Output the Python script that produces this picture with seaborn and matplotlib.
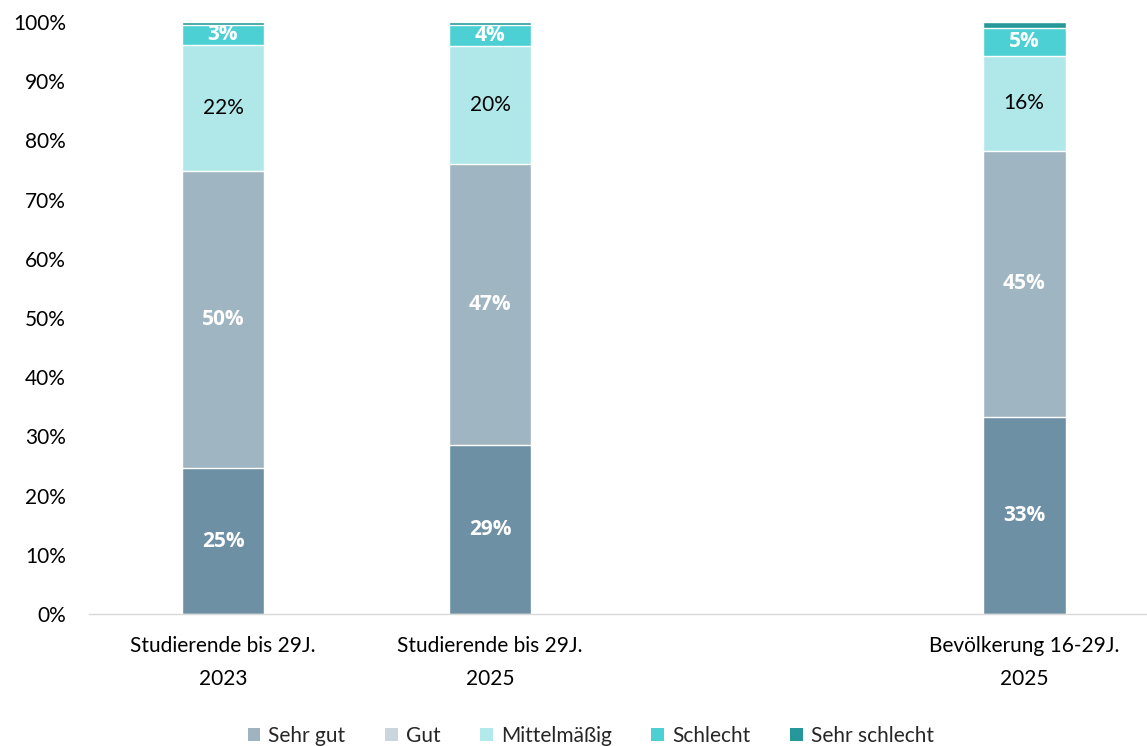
import matplotlib
matplotlib.use("Agg")
import matplotlib.pyplot as plt
import seaborn as sns
import pandas as pd
import numpy as np
from matplotlib.patches import Patch

categories = ["Studierende bis 29J.\n2023", "Studierende bis 29J.\n2025", "Bevölkerung 16-29J.\n2025"]
positions = [0, 1, 3]
series = ["Sehr gut", "Gut", "Mittelmäßig", "Schlecht", "Sehr schlecht"]
sehr_gut = [24.6, 28.6, 33.3]
gut = [50.2, 47.4, 44.9]
mittel = [21.4, 19.9, 16.1]
schlecht = [3.3, 3.6, 4.7]
sehr_schlecht = [0.5, 0.5, 1.0]
labels = {
    "Sehr gut": ["25%", "29%", "33%"],
    "Gut": ["50%", "47%", "45%"],
    "Mittelmäßig": ["22%", "20%", "16%"],
    "Schlecht": ["3%", "4%", "5%"],
    "Sehr schlecht": ["", "", ""],
}
bar_colors = ["#6E90A4", "#A0B5C2", "#B0E8EA", "#4DD0D4", "#27989A"]
legend_colors = ["#A0B4C0", "#CAD6DE", "#B2EAEC", "#4DD0D4", "#26979A"]
text_colors = ["white", "white", "black", "white", "white"]
text_weights = ["bold", "bold", "normal", "bold", "bold"]

sns.set_theme(style="white")
plt.rcParams["font.family"] = ["Lato", "DejaVu Sans"]

values = [sehr_gut, gut, mittel, schlecht, sehr_schlecht]
cum = np.cumsum(np.array(values), axis=0)

fig = plt.figure(figsize=(11.47, 7.46), dpi=100)
ax = fig.add_axes([0.078, 0.177, 0.922, 0.7935])

# draw from top of stack down so lower segments overlay
for i in reversed(range(len(series))):
    df = pd.DataFrame({"pos": positions, "top": cum[i]})
    sns.barplot(data=df, x="pos", y="top", native_scale=True, width=0.31,
                color=bar_colors[i], edgecolor="white", linewidth=1.0,
                saturation=1, ax=ax, errorbar=None)

for i, s in enumerate(series):
    bottoms = cum[i] - np.array(values[i])
    for j, p in enumerate(positions):
        lab = labels[s][j]
        if lab:
            if text_weights[i] == "bold":
                ax.text(p, bottoms[j] + values[i][j] / 2, lab, ha="center", va="center",
                        color=text_colors[i], fontweight="bold", fontsize=15,
                        family=["Open Sans", "DejaVu Sans"])
            else:
                ax.text(p, bottoms[j] + values[i][j] / 2, lab, ha="center", va="center",
                        color=text_colors[i], fontsize=15)

ax.set_xlim(-0.5, 3.46)
ax.set_ylim(0, 100)
ax.set_yticks(np.arange(0, 101, 10))
ax.set_yticklabels([f"{v}%" for v in range(0, 101, 10)], fontsize=15, color="black")
ax.set_xticks(positions)
ax.set_xticklabels(categories, fontsize=15, color="black", linespacing=1.8)
ax.tick_params(axis="x", length=0, pad=16)
ax.tick_params(axis="y", length=0, pad=17)
ax.set_xlabel("")
ax.set_ylabel("")
for sp in ["top", "right", "left"]:
    ax.spines[sp].set_visible(False)
ax.spines["bottom"].set_color("#D9D9D9")
ax.spines["bottom"].set_linewidth(1)

handles = [Patch(facecolor=c, edgecolor="none", label=s) for c, s in zip(legend_colors, series)]
fig.legend(handles=handles, loc="lower center", bbox_to_anchor=(0.515, -0.025), ncol=5,
           frameon=False, fontsize=15, handlelength=0.6, handleheight=0.6,
           handletextpad=0.4, columnspacing=1.9)

fig.savefig("out.png", dpi=100)
